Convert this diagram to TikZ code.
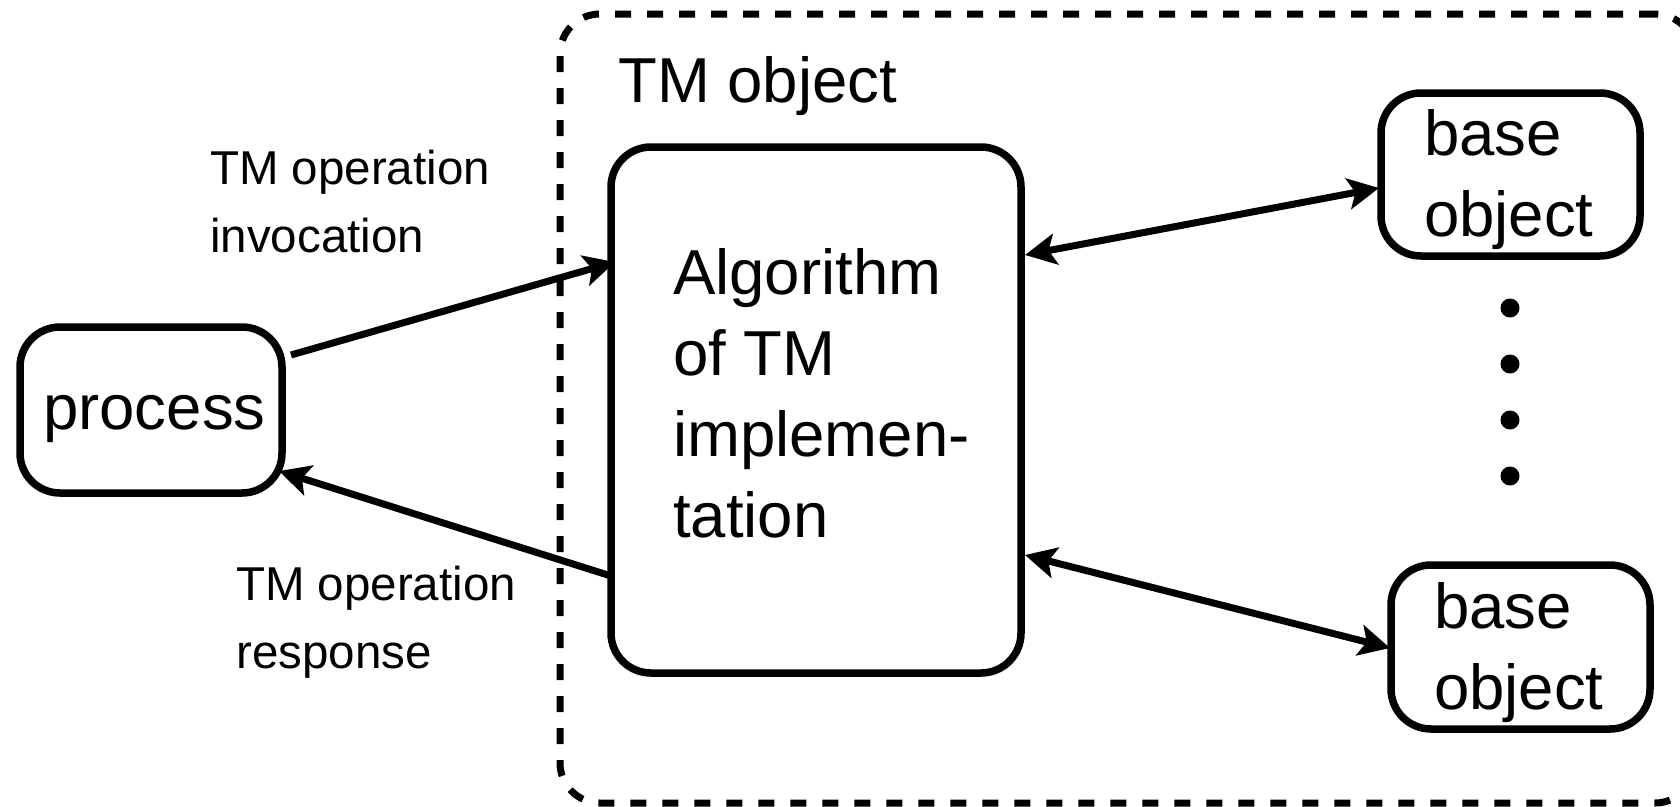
\documentclass[tikz,border=0pt]{standalone}
\usepackage{fontspec}
\setmainfont{Liberation Sans}
\usetikzlibrary{arrows.meta,calc}
\begin{document}
\begin{tikzpicture}[x=1pt,y=-1pt,
  box/.style={draw, line width=7.5pt, rounded corners=40pt, outer sep=0pt, inner sep=0pt},
  frame/.style={draw, line width=7pt, dash pattern=on 16pt off 16pt, rounded corners=40pt, outer sep=0pt, inner sep=0pt},
  bigtext/.style={inner sep=0pt, align=left, font=\fontsize{63.5}{81}\selectfont},
  smalltext/.style={inner sep=0pt, align=left, font=\fontsize{47.5}{68}\selectfont},
  tip/.tip={Stealth[length=31pt, width=31pt, inset=7pt]},
  arr/.style={line width=7pt, -tip},
  darr/.style={line width=7pt, tip-tip},
  dot/.style={circle, fill=black, inner sep=0pt, minimum size=19pt}
]
\useasboundingbox (0,0) rectangle (1680,806);
\clip (0,0) rectangle (1680,806);

% TM object frame (runs past the right edge)
\node[frame, minimum width=1135pt, minimum height=789pt] (tmobj) at (1127.5,408.5) {};
\node[bigtext, anchor=base west] (tmobjlbl) at (618,102) {TM object};

% boxes; multi-line labels are anchored at the baseline of their last line
\node[box, minimum width=262pt, minimum height=166pt] (proc) at (151,410) {};
\node[bigtext, anchor=base west] (proclbl) at (43,429) {process};

\node[box, minimum width=410pt, minimum height=526pt] (alg) at (816,410) {};
\node[bigtext, anchor=base west] (alglbl) at (673,537) {Algorithm\\of TM\\implemen-\\tation};

\node[box, minimum width=259pt, minimum height=163pt] (base1) at (1510.5,174.5) {};
\node[bigtext, anchor=base west] (base1lbl) at (1424,236) {base\\object};

\node[box, minimum width=259pt, minimum height=164pt] (base2) at (1520.5,647) {};
\node[bigtext, anchor=base west] (base2lbl) at (1434,709) {base\\object};

% vertical ellipsis
\node[dot] (d1) at (1510,308) {};
\node[dot] (d2) at (1510,364) {};
\node[dot] (d3) at (1510,420) {};
\node[dot] (d4) at (1510,476) {};

% operation labels
\node[smalltext, anchor=base west] (invlbl) at (210,252) {TM operation\\invocation};
\node[smalltext, anchor=base west] (reslbl) at (236,668) {TM operation\\response};

% connectors
\draw[arr] ($(proc.north east)+(9,28)$) -- ($(alg.north west)+(4,115)$);
\draw[arr] ($(alg.south west)+(0,-97)$) -- ($(proc.south east)+(-3,-22)$);
\draw[darr] ($(alg.north east)+(4,108)$) -- ($(base1.west)+(-2,13.5)$);
\draw[darr] ($(alg.north east)+(4,408)$) -- ($(base2.west)+(-1,1)$);
\end{tikzpicture}
\end{document}
